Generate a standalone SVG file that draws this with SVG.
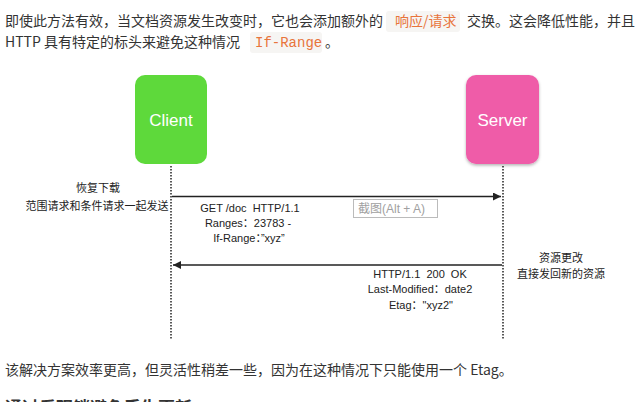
<svg xmlns="http://www.w3.org/2000/svg" width="644" height="402" viewBox="0 0 644 402">
<defs>
<style>
text{white-space:pre}
.p{font-family:"Noto Sans CJK SC","Liberation Sans",sans-serif;font-size:14px;fill:#333}
.code{font-family:"Liberation Mono","DejaVu Sans Mono",monospace;font-size:14px;fill:#e8743b}
.codecj{font-family:"Noto Sans CJK SC",sans-serif;font-size:14px;fill:#e8743b}
.cbg{fill:#f6f5f3}
.node{font-family:"Liberation Sans",Arial,sans-serif;font-size:17px;fill:#fff}
.lbl{font-family:"Liberation Sans","Noto Sans CJK SC",sans-serif;font-size:11px;fill:#222}
.life{stroke:#222;stroke-width:1.5;stroke-dasharray:1.5 1.5;fill:none}
.msg{stroke:#222;stroke-width:1.6;fill:none}
</style>
<marker id="ah" viewBox="0 0 10 10" refX="10" refY="5" markerWidth="5" markerHeight="5" orient="auto-start-reverse" markerUnits="strokeWidth">
<path d="M0,0 L10,5 L0,10 z" fill="#222"/>
</marker>
<filter id="sh" x="-20%" y="-20%" width="140%" height="140%">
<feDropShadow dx="0" dy="1.5" stdDeviation="1.5" flood-color="#000" flood-opacity="0.3"/>
</filter>
</defs>
<rect width="644" height="402" fill="#fff"/>

<g id="intro">
<text class="p" x="5" y="26">即使此方法有效，当文档资源发生改变时，它也会添加额外的</text>
<rect class="cbg" x="386" y="11" width="74" height="21" rx="3"/>
<text class="codecj" x="395" y="26">响应/请求</text>
<text class="p" x="467" y="26">交换。这会降低性能，并且</text>
<text class="p" x="5" y="47">HTTP 具有特定的标头来避免这种情况</text>
<rect class="cbg" x="250" y="32" width="72" height="21" rx="3"/>
<text class="code" x="255" y="47">If-Range</text>
<text class="p" x="325" y="47">。</text>
</g>

<g id="connectors">
<line class="life" x1="171" y1="166" x2="171" y2="340"/>
<line class="life" x1="503" y1="166" x2="503" y2="340"/>
<line class="msg" x1="172" y1="196.5" x2="501" y2="196.5" marker-end="url(#ah)"/>
<line class="msg" x1="502" y1="265" x2="173" y2="265" marker-end="url(#ah)"/>
</g>

<g id="client">
<rect x="135" y="75" width="72" height="89" rx="10" fill="#5ed93b"/>
<text class="node" x="171" y="126" text-anchor="middle">Client</text>
</g>

<g id="server">
<rect x="466" y="75" width="73" height="89" rx="10" fill="#ef5ca8" filter="url(#sh)"/>
<text class="node" x="502.5" y="126" text-anchor="middle">Server</text>
</g>

<g id="request-label">
<text class="lbl" x="98" y="192" text-anchor="middle">恢复下载</text>
<text class="lbl" x="97" y="210" text-anchor="middle">范围请求和条件请求一起发送</text>
<text class="lbl" x="250" y="212" text-anchor="middle">GET /doc  HTTP/1.1</text>
<text class="lbl" x="248" y="227" text-anchor="middle">Ranges：23783 -</text>
<text class="lbl" x="249" y="242" text-anchor="middle">If-Range：”xyz”</text>
</g>

<g id="screenshot-hint">
<rect x="353.5" y="199.5" width="84" height="18" fill="#fff" stroke="#bbb" stroke-width="1"/>
<text x="358" y="213" font-family="Liberation Sans,Noto Sans CJK SC,sans-serif" font-size="12" fill="#a0a0a0">截图(Alt + A)</text>
</g>

<g id="response-label">
<text class="lbl" x="561" y="262" text-anchor="middle">资源更改</text>
<text class="lbl" x="561" y="278" text-anchor="middle">直接发回新的资源</text>
<text class="lbl" x="420" y="278" text-anchor="middle">HTTP/1.1  200  OK</text>
<text class="lbl" x="420" y="293" text-anchor="middle">Last-Modified：date2</text>
<text class="lbl" x="421" y="309" text-anchor="middle">Etag："xyz2"</text>
</g>

<g id="outro">
<text class="p" x="5" y="375">该解决方案效率更高，但灵活性稍差一些，因为在这种情况下只能使用一个 Etag。</text>
<text x="5" y="414" font-family="Noto Sans CJK SC,sans-serif" font-size="17" font-weight="bold" fill="#333">通过乐观锁避免丢失更新</text>
</g>
</svg>
